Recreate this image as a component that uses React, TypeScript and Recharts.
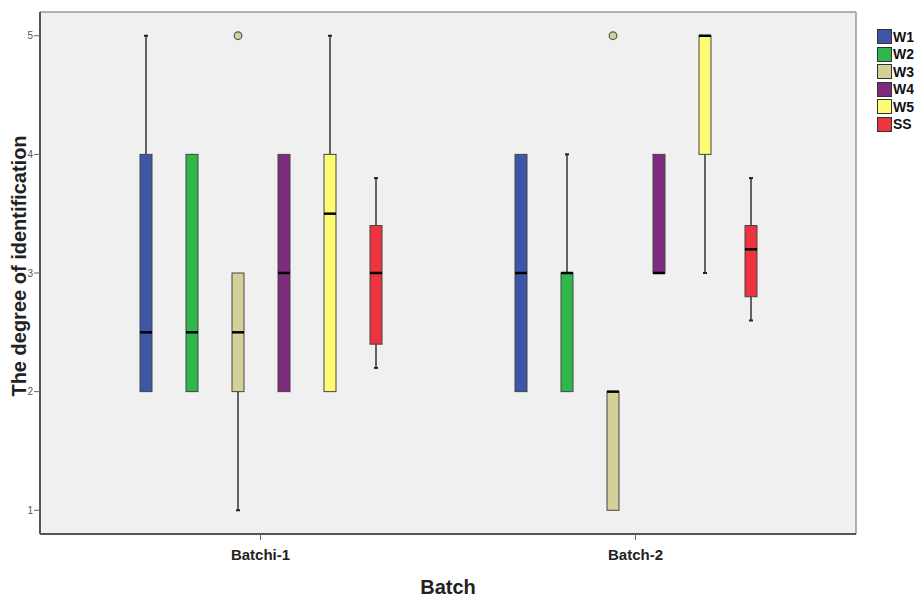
import React from "react";
import { ComposedChart, Bar, XAxis, YAxis, CartesianGrid, Legend } from "recharts";

const FONT = "'Liberation Sans', Arial, sans-serif";

const batches = ["Batchi-1", "Batch-2"];
const seriesKeys = ["W1", "W2", "W3", "W4", "W5", "SS"];
const seriesColors = ["#3e56a7", "#2eb84b", "#d4d198", "#7d2a7f", "#fdfb73", "#ee3340"];
const yTicks = [1, 2, 3, 4, 5];
const yDomain = [0.8, 5.2];

// box stats per batch (Batchi-1, Batch-2)
const W1 = { min: [2, 2], q1: [2, 2], median: [2.5, 3], q3: [4, 4], max: [5, 4], outliers: [[], []] };
const W2 = { min: [2, 2], q1: [2, 2], median: [2.5, 3], q3: [4, 3], max: [4, 4], outliers: [[], []] };
const W3 = { min: [1, 1], q1: [2, 1], median: [2.5, 2], q3: [3, 2], max: [3, 2], outliers: [[5], [5]] };
const W4 = { min: [2, 3], q1: [2, 3], median: [3, 3], q3: [4, 4], max: [4, 4], outliers: [[], []] };
const W5 = { min: [2, 3], q1: [2, 4], median: [3.5, 5], q3: [4, 5], max: [5, 5], outliers: [[], []] };
const SS = { min: [2.2, 2.6], q1: [2.4, 2.8], median: [3.0, 3.2], q3: [3.4, 3.4], max: [3.8, 3.8], outliers: [[], []] };

const stats: Record<string, any> = { W1, W2, W3, W4, W5, SS };

const data = batches.map((batch, i) => {
  const row: any = { batch };
  seriesKeys.forEach((k) => {
    const s = stats[k];
    row[k] = { min: s.min[i], q1: s.q1[i], median: s.median[i], q3: s.q3[i], max: s.max[i], outliers: s.outliers[i] };
  });
  return row;
});

const extent = (s: any) => [Math.min(s.min, ...s.outliers), Math.max(s.max, ...s.outliers)];

function BoxShape(props: any) {
  const { x, y, width, height, payload, skey, color } = props;
  const s = payload[skey];
  const [lo, hi] = extent(s);
  const top = Math.min(y, y + height);
  const bottom = Math.max(y, y + height);
  const py = (v: number) => (hi === lo ? bottom : bottom - ((bottom - top) * (v - lo)) / (hi - lo));
  const cx = x + width / 2;
  const bw = 12;
  return (
    <g>
      {s.max > s.q3 && <line x1={cx} x2={cx} y1={py(s.max)} y2={py(s.q3)} stroke="#333" strokeWidth={1.5} />}
      {s.max > s.q3 && <line x1={cx - 2} x2={cx + 2} y1={py(s.max)} y2={py(s.max)} stroke="#222" strokeWidth={2} />}
      {s.min < s.q1 && <line x1={cx} x2={cx} y1={py(s.q1)} y2={py(s.min)} stroke="#333" strokeWidth={1.5} />}
      {s.min < s.q1 && <line x1={cx - 2} x2={cx + 2} y1={py(s.min)} y2={py(s.min)} stroke="#222" strokeWidth={2} />}
      <rect x={cx - bw / 2} y={py(s.q3)} width={bw} height={py(s.q1) - py(s.q3)} fill={color} stroke="#444" strokeWidth={1} />
      <line x1={cx - bw / 2} x2={cx + bw / 2} y1={py(s.median)} y2={py(s.median)} stroke="#000" strokeWidth={2.5} />
      {s.outliers.map((o: number, j: number) => (
        <circle key={j} cx={cx} cy={py(o)} r={3.8} fill={color} stroke="#555" strokeWidth={1.2} />
      ))}
    </g>
  );
}

const renderLegend = () => (
  <div style={{ fontFamily: FONT, fontWeight: "bold", fontSize: 14, color: "#111" }}>
    {seriesKeys.map((k, i) => (
      <div key={k} style={{ display: "flex", alignItems: "center", height: 17.5 }}>
        <span style={{ display: "inline-block", width: 13, height: 13, background: seriesColors[i], border: "1px solid #333", marginRight: 1 }} />
        <span>{k}</span>
      </div>
    ))}
  </div>
);

// frame lines on the top and right edges of the plot area
const topEdge = ({ offset }: any) => [offset.top];
const rightEdge = ({ offset }: any) => [offset.left + offset.width];

export default function App() {
  return (
    <div style={{ position: "absolute", left: 0, top: 0, width: 914, height: 597, overflow: "hidden", background: "#fff" }}>
      <ComposedChart width={914} height={597} data={data} margin={{ top: 12, right: 58, bottom: 33, left: 10 }} barGap={0} barSize={46}>
        <CartesianGrid
          fill="#f0f0f0"
          stroke="#999"
          strokeWidth={1.5}
          horizontalCoordinatesGenerator={topEdge}
          verticalCoordinatesGenerator={rightEdge}
        />
        <XAxis
          dataKey="batch"
          padding={{ left: 33, right: 33 }}
          height={30}
          tickSize={6}
          tickMargin={9}
          tickLine={{ stroke: "#666" }}
          axisLine={{ stroke: "#555", strokeWidth: 2 }}
          tick={{ fontFamily: FONT, fontSize: 15, fontWeight: "bold", fill: "#222" }}
          label={{
            content: () => (
              <text x={448} y={594} textAnchor="middle" fontFamily={FONT} fontSize={20} fontWeight="bold" fill="#222">
                Batch
              </text>
            ),
          }}
        />
        <YAxis
          type="number"
          domain={yDomain}
          ticks={yTicks}
          width={30}
          tickSize={6}
          tickMargin={1}
          tickLine={{ stroke: "#666" }}
          axisLine={{ stroke: "#555", strokeWidth: 2 }}
          tick={{ fontFamily: FONT, fontSize: 10, fill: "#555" }}
          label={{
            content: () => (
              <text x={26} y={266} transform="rotate(-90, 26, 266)" textAnchor="middle" fontFamily={FONT} fontSize={20} fontWeight="bold" fill="#222">
                The degree of identification
              </text>
            ),
          }}
        />
        <Legend layout="vertical" align="center" verticalAlign="middle" content={renderLegend} wrapperStyle={{ left: 877, top: 28, width: 37 }} />
        {seriesKeys.map((k, i) => (
          <Bar
            key={k}
            name={k}
            dataKey={(d: any) => extent(d[k])}
            fill={seriesColors[i]}
            isAnimationActive={false}
            shape={(p: any) => <BoxShape {...p} skey={k} color={seriesColors[i]} />}
          />
        ))}
      </ComposedChart>
    </div>
  );
}
